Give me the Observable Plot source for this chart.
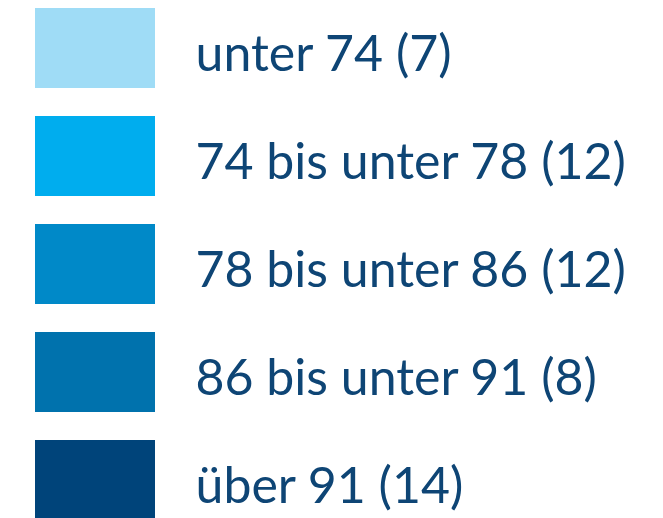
<!DOCTYPE html>
<html>
<head>
<meta charset="utf-8">
<script src="https://cdn.jsdelivr.net/npm/d3@7"></script>
<script src="https://cdn.jsdelivr.net/npm/@observablehq/plot@0.6"></script>
<style>
  html, body { margin: 0; padding: 0; background: #fff; }
  #chart svg { display: block; }
</style>
</head>
<body>
<div id="chart"></div>
<script>
const categories = ["unter 74 (7)", "74 bis unter 78 (12)", "78 bis unter 86 (12)", "86 bis unter 91 (8)", "über 91 (14)"];
const colors = ["#9fdcf6", "#00adee", "#0089c8", "#0072ad", "#00447a"];

const data = categories.map((c, i) => ({label: c, color: colors[i]}));

const chart = Plot.plot({
  width: 663,
  height: 518,
  margin: 0,
  style: {background: "#fff", fontFamily: "Lato, sans-serif"},
  x: {type: "band", domain: ["swatch"], range: [35, 155], padding: 0, axis: null},
  y: {type: "band", domain: categories, range: [8, 520], paddingInner: 0.26, paddingOuter: 0, axis: null},
  marks: [
    Plot.cell(data, {x: () => "swatch", y: "label", fill: "color", inset: 0}),
    Plot.text(data, {
      x: () => "swatch", y: "label", text: "label",
      dx: 100, dy: 6, textAnchor: "start",
      fill: "#0e4575", fontSize: 50
    })
  ]
});
document.getElementById("chart").append(chart);
</script>
</body>
</html>
